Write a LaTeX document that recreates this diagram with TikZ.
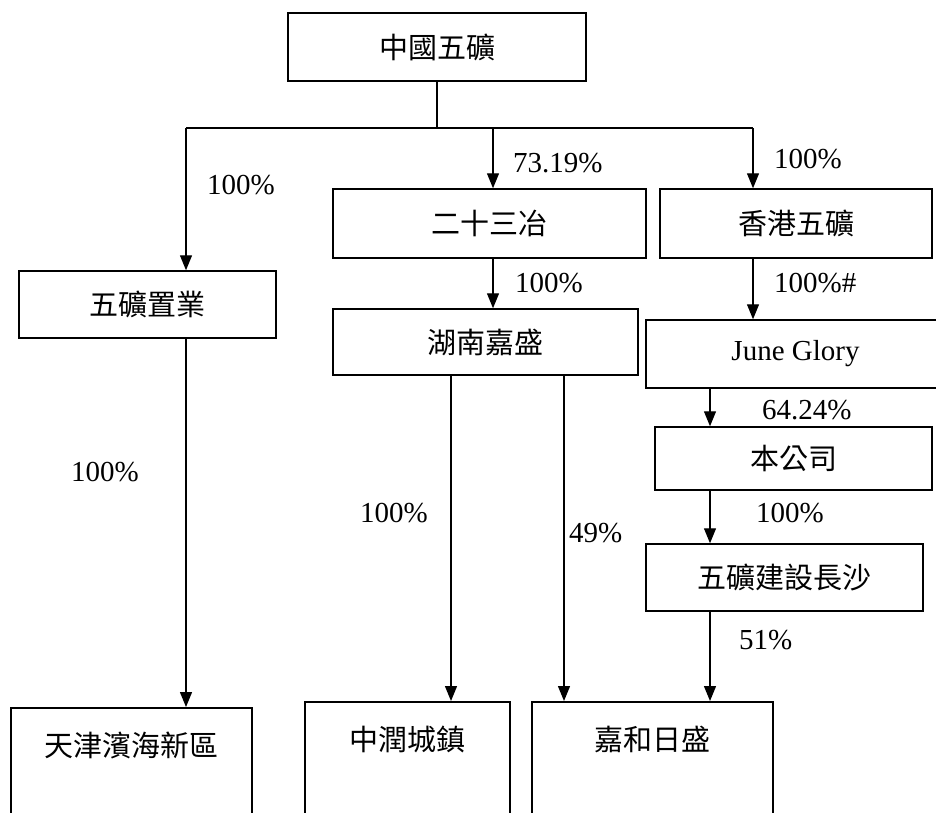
\documentclass[tikz,border=0pt]{standalone}
\usepackage{fontspec}
\setmainfont{Liberation Serif}
\newfontfamily\cjk{Noto Sans CJK TC}
\usetikzlibrary{arrows.meta}

\tikzset{
    box/.style={draw,line width=1.5pt,inner sep=0pt,font=\cjk\fontsize{29}{34}\selectfont},
    openbox/.style={box,anchor=north,inner sep=24pt,text depth=90pt},
    pct/.style={anchor=west,inner sep=0pt,font=\fontsize{29}{34}\selectfont},
    link/.style={line width=1.3pt},
    arr/.style={link,-{Triangle[length=15pt,width=12pt]}}
}

\begin{document}
\begin{tikzpicture}[x=1pt,y=-1pt]
    \useasboundingbox (0,0) rectangle (936,812);

    % companies
    \node[box,minimum width=298pt,minimum height=68pt] (top) at (437,47) {中國五礦};
    \node[box,minimum width=257pt,minimum height=67pt] (zhiye) at (147.5,304.5) {五礦置業};
    \node[box,minimum width=313pt,minimum height=69pt] (yejin) at (489.5,223.5) {二十三冶};
    \node[box,minimum width=272pt,minimum height=69pt] (hkwk) at (796,223.5) {香港五礦};
    \node[box,minimum width=305pt,minimum height=66pt] (hunan) at (485.5,342) {湖南嘉盛};
    \node[box,minimum width=299pt,minimum height=68pt,font=\fontsize{29}{34}\selectfont] (june) at (795.5,354) {June Glory};
    \node[box,minimum width=277pt,minimum height=63pt] (company) at (793.5,458.5) {本公司};
    \node[box,minimum width=277pt,minimum height=67pt] (changsha) at (784.5,577.5) {五礦建設長沙};
    \node[openbox,minimum width=241pt] (tianjin) at (131.5,707) {天津濱海新區};
    \node[openbox,minimum width=205pt] (zhongrun) at (407.5,701) {中潤城鎮};
    \node[openbox,minimum width=241pt] (jiahe) at (652.5,701) {嘉和日盛};

    % where the lines run
    \coordinate (split) at (437,128);
    \coordinate (bl) at (186,128);
    \coordinate (bm) at (493,128);
    \coordinate (br) at (753,128);
    \coordinate (hl) at (451,400);
    \coordinate (hr) at (564,400);
    \coordinate (rx) at (710,400);

    \draw[link] (top) -- (split);
    \draw[link] (bl) -- (br);
    \draw[arr] (bl) -- (bl |- zhiye.north);
    \draw[arr] (bm) -- (bm |- yejin.north);
    \draw[arr] (br) -- (br |- hkwk.north);
    \draw[arr] (bm |- yejin.south) -- (bm |- hunan.north);
    \draw[arr] (br |- hkwk.south) -- (br |- june.north);
    \draw[arr] (rx |- june.south) -- (rx |- company.north);
    \draw[arr] (rx |- company.south) -- (rx |- changsha.north);
    \draw[arr] (rx |- changsha.south) -- (rx |- jiahe.north);
    \draw[arr] (bl |- zhiye.south) -- (bl |- tianjin.north);
    \draw[arr] (hl |- hunan.south) -- (hl |- zhongrun.north);
    \draw[arr] (hr |- hunan.south) -- (hr |- jiahe.north);

    % shares
    \node[pct] (p-zhiye) at (207,185) {100\%};
    \node[pct] (p-yejin) at (513,163) {73.19\%};
    \node[pct] (p-hkwk) at (774,159) {100\%};
    \node[pct] (p-hunan) at (515,283) {100\%};
    \node[pct] (p-june) at (774,283) {100\%\#};
    \node[pct] (p-company) at (762,410) {64.24\%};
    \node[pct] (p-changsha) at (756,513) {100\%};
    \node[pct] (p-tianjin) at (71,472) {100\%};
    \node[pct] (p-zhongrun) at (360,513) {100\%};
    \node[pct] (p-jiahe) at (569,533) {49\%};
    \node[pct] (p-51) at (739,640) {51\%};
\end{tikzpicture}
\end{document}
